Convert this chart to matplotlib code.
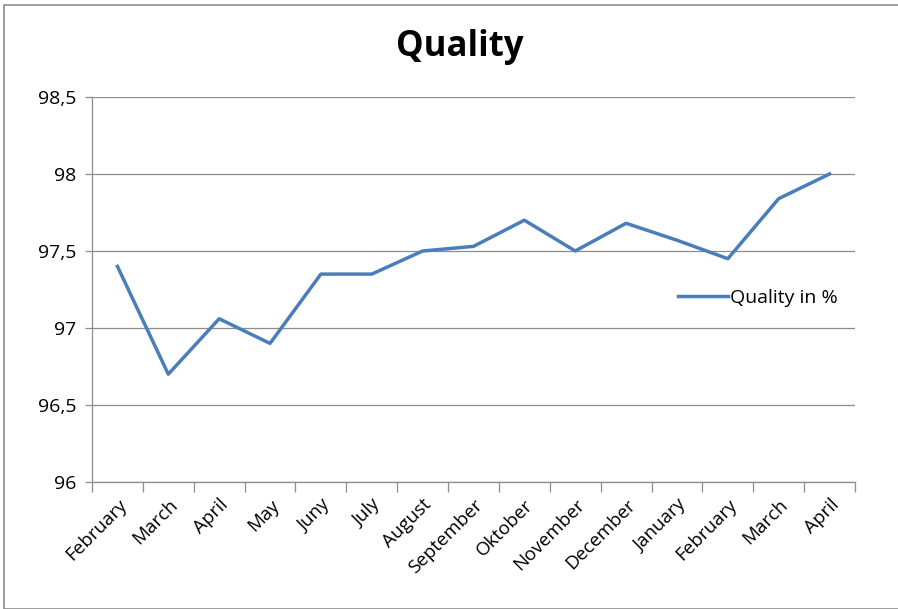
import matplotlib
matplotlib.use("Agg")
import matplotlib.pyplot as plt
import numpy as np
from matplotlib.patches import Rectangle

months = ["February", "March", "April", "May", "Juny", "July", "August", "September",
          "Oktober", "November", "December", "January", "February", "March", "April"]
quality = [97.40, 96.70, 97.06, 96.90, 97.35, 97.35, 97.50, 97.53,
           97.70, 97.50, 97.68, 97.57, 97.45, 97.84, 98.00]
yticks = [96, 96.5, 97, 97.5, 98, 98.5]
ytick_labels = ["96", "96,5", "97", "97,5", "98", "98,5"]

plt.rcParams['font.family'] = ['Open Sans', 'DejaVu Sans']

fig = plt.figure(figsize=(8.98, 6.09), dpi=100)
fig.patches.append(Rectangle((4/898, 0), 1.0, 1 - 5/609, transform=fig.transFigure,
                             fill=False, edgecolor="#8c8c8c", linewidth=1.2))
ax = fig.add_axes([92/898, 127/609, (855-92)/898, (482-97)/609])

x = np.arange(len(months))
ax.plot(x, quality, color="#4A7EBB", linewidth=2.5, label="Quality in %",
        solid_joinstyle="round")

ax.set_xlim(-0.5, len(months) - 0.5)
ax.set_ylim(96, 98.5)
ax.set_yticks(yticks)
ax.set_yticklabels(ytick_labels, fontsize=14)
ax.grid(axis="y", color="#8c8c8c", linewidth=0.9)
ax.set_axisbelow(True)

ax.set_xticks(x)
ax.set_xticklabels(months, rotation=45, ha="right", rotation_mode="anchor", fontsize=13.5)
ax.tick_params(axis="x", which="major", length=0, pad=10)
ax.set_xticks(np.arange(-0.5, len(months) + 0.5, 1), minor=True)
ax.tick_params(axis="x", which="minor", length=7, color="#8c8c8c", width=0.9)
ax.tick_params(axis="y", length=5, color="#8c8c8c", width=0.9, pad=6)

for s in ["top", "right"]:
    ax.spines[s].set_visible(False)
for s in ["left", "bottom"]:
    ax.spines[s].set_color("#8c8c8c")
    ax.spines[s].set_linewidth(0.9)

ax.legend(loc="center left", bbox_to_anchor=(0.745, 0.478), frameon=False, fontsize=14,
          handlelength=2.6, handletextpad=0.1)

fig.text(0.512, 1 - 47/609, "Quality", ha="center", va="center", fontsize=25, fontweight="bold")

fig.savefig("out.png", dpi=100)
